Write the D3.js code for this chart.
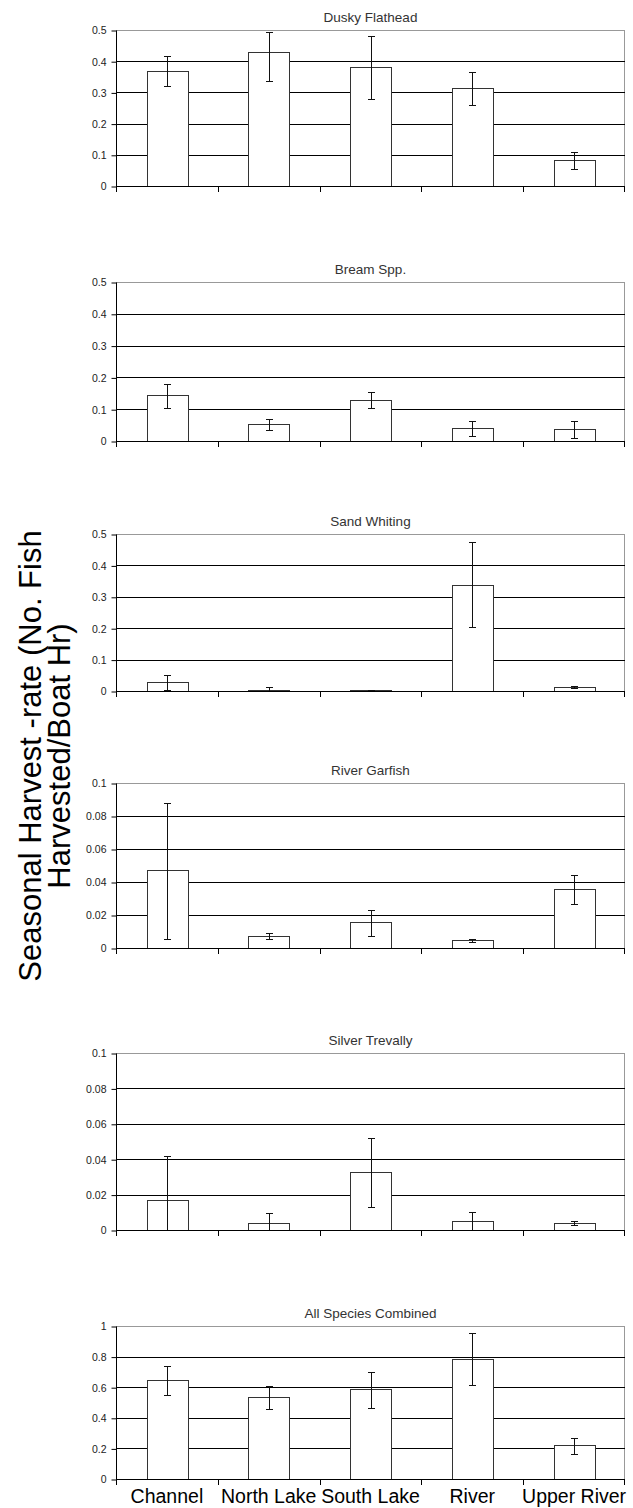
<!DOCTYPE html>
<html>
<head>
<meta charset="utf-8">
<script src="https://cdnjs.cloudflare.com/ajax/libs/d3/7.8.5/d3.min.js"></script>
<style>
  body { margin: 0; background: #fff; }
  text { font-family: "Liberation Sans", Arial, sans-serif; }
</style>
</head>
<body>
<div id="chart"></div>
<script>
// sites along the x axis (shared by every panel)
var sites = ["Channel", "North Lake", "South Lake", "River", "Upper River"];

// one entry per panel
var titles = ["Dusky Flathead", "Bream Spp.", "Sand Whiting", "River Garfish", "Silver Trevally", "All Species Combined"];
var yMax = [0.5, 0.5, 0.5, 0.1, 0.1, 1];
var yTicks = [
    [0, 0.1, 0.2, 0.3, 0.4, 0.5],
    [0, 0.1, 0.2, 0.3, 0.4, 0.5],
    [0, 0.1, 0.2, 0.3, 0.4, 0.5],
    [0, 0.02, 0.04, 0.06, 0.08, 0.1],
    [0, 0.02, 0.04, 0.06, 0.08, 0.1],
    [0, 0.2, 0.4, 0.6, 0.8, 1]
];

// mean harvest rate per site
var rates = [
    [0.370, 0.431, 0.380, 0.315, 0.084],
    [0.145, 0.054, 0.129, 0.040, 0.037],
    [0.030, 0.004, 0.003, 0.339, 0.013],
    [0.047, 0.0075, 0.016, 0.0049, 0.0355],
    [0.017, 0.0041, 0.0329, 0.0051, 0.0041],
    [0.648, 0.535, 0.587, 0.783, 0.222]
];
// error bar ends
var errLow = [
    [0.319, 0.335, 0.279, 0.261, 0.054],
    [0.103, 0.034, 0.103, 0.015, 0.009],
    [0.004, 0.000, 0.002, 0.203, 0.008],
    [0.0055, 0.0057, 0.0073, 0.0039, 0.0268],
    [0.000, 0.000, 0.013, 0.000, 0.003],
    [0.548, 0.457, 0.465, 0.613, 0.165]
];
var errHigh = [
    [0.418, 0.492, 0.481, 0.364, 0.108],
    [0.180, 0.068, 0.154, 0.063, 0.063],
    [0.052, 0.012, 0.004, 0.473, 0.017],
    [0.088, 0.009, 0.023, 0.0057, 0.044],
    [0.042, 0.0098, 0.052, 0.0102, 0.0051],
    [0.739, 0.607, 0.700, 0.957, 0.267]
];

var svgWidth = 633;
var svgHeight = 1508;

// plot area edges for each panel (top, bottom)
var panelTop = [30, 282, 534, 783, 1053, 1326];
var panelBottom = [186, 441, 691, 948, 1230, 1479];
var plotLeft = 116;
var plotRight = 625;

var svg = d3.select("#chart")
    .append("svg")
    .attr("width", svgWidth)
    .attr("height", svgHeight);

var xBand = d3.scaleBand()
    .domain(sites)
    .range([plotLeft, plotRight])
    .paddingInner(0)
    .paddingOuter(0);

var barWidth = xBand.bandwidth() * 0.4;
var capHalf = 3.5;

titles.forEach(function(title, i) {
    var y = d3.scaleLinear()
        .domain([0, yMax[i]])
        .range([panelBottom[i], panelTop[i]]);

    var g = svg.append("g");

    // title
    g.append("text")
        .attr("x", (plotLeft + plotRight) / 2)
        .attr("y", panelTop[i] - 8)
        .attr("text-anchor", "middle")
        .attr("font-size", "13.5px")
        .attr("fill", "#333")
        .text(title);

    // top and right frame (grey)
    g.append("line")
        .attr("x1", plotLeft).attr("x2", plotRight)
        .attr("y1", y(yMax[i]) + 0.5).attr("y2", y(yMax[i]) + 0.5)
        .attr("stroke", "#999");
    g.append("line")
        .attr("x1", plotRight - 0.5).attr("x2", plotRight - 0.5)
        .attr("y1", y(yMax[i])).attr("y2", y(0))
        .attr("stroke", "#999");

    // gridlines
    g.selectAll(".grid")
        .data(yTicks[i].filter(d => d > 0 && d < yMax[i]))
        .enter()
        .append("line")
        .attr("x1", plotLeft).attr("x2", plotRight)
        .attr("y1", d => Math.round(y(d)) + 0.5)
        .attr("y2", d => Math.round(y(d)) + 0.5)
        .attr("stroke", "#000")
        .attr("stroke-width", 1);

    // bars
    g.selectAll(".bar")
        .data(rates[i])
        .enter()
        .append("rect")
        .attr("x", (d, j) => Math.round(xBand(sites[j]) + (xBand.bandwidth() - barWidth) / 2) + 0.5)
        .attr("y", d => Math.round(y(d)) + 0.5)
        .attr("width", Math.round(barWidth))
        .attr("height", d => Math.max(0, Math.round(y(0)) - Math.round(y(d))))
        .attr("fill", "#fff")
        .attr("stroke", "#333")
        .attr("stroke-width", 1);

    // error bars
    sites.forEach(function(s, j) {
        var cx = Math.round(xBand(s) + xBand.bandwidth() / 2) + 0.5;
        var yl = Math.round(y(errLow[i][j])) + 0.5;
        var yh = Math.round(y(errHigh[i][j])) + 0.5;
        g.append("line")
            .attr("x1", cx).attr("x2", cx)
            .attr("y1", yl).attr("y2", yh)
            .attr("stroke", "#111");
        g.append("line")
            .attr("x1", cx - capHalf).attr("x2", cx + capHalf)
            .attr("y1", yl).attr("y2", yl)
            .attr("stroke", "#111");
        g.append("line")
            .attr("x1", cx - capHalf).attr("x2", cx + capHalf)
            .attr("y1", yh).attr("y2", yh)
            .attr("stroke", "#111");
    });

    // y axis
    var leftAxis = d3.axisLeft(y)
        .tickValues(yTicks[i])
        .tickFormat(d => String(d))
        .tickSize(5)
        .tickPadding(5);
    var ya = g.append("g")
        .attr("transform", `translate(${plotLeft + 0.5}, 0.5)`)
        .call(leftAxis);
    ya.select(".domain").attr("d", `M0,${y(yMax[i])}V${y(0)}`).attr("stroke", "#000");
    ya.selectAll("line").attr("stroke", "#000");
    ya.selectAll("text")
        .attr("font-family", "Liberation Sans, Arial, sans-serif")
        .attr("font-size", "10.5px")
        .attr("fill", "#222");

    // x axis with ticks at category boundaries
    var xa = g.append("g");
    xa.append("line")
        .attr("x1", plotLeft).attr("x2", plotRight)
        .attr("y1", Math.round(y(0)) + 0.5).attr("y2", Math.round(y(0)) + 0.5)
        .attr("stroke", "#000");
    var bounds = sites.map(s => xBand(s)).concat([plotRight - 1]);
    xa.selectAll(".xt")
        .data(bounds)
        .enter()
        .append("line")
        .attr("x1", d => Math.round(d) + 0.5).attr("x2", d => Math.round(d) + 0.5)
        .attr("y1", Math.round(y(0))).attr("y2", Math.round(y(0)) + 6)
        .attr("stroke", "#000");

    // site labels only under the last panel
    if (i === titles.length - 1) {
        xa.selectAll(".xl")
            .data(sites)
            .enter()
            .append("text")
            .attr("x", d => xBand(d) + xBand.bandwidth() / 2)
            .attr("y", Math.round(y(0)) + 24)
            .attr("text-anchor", "middle")
            .attr("font-size", "19.5px")
            .attr("fill", "#000")
            .text(d => d);
    }
});

// shared y axis title
var yTitle = svg.append("text")
    .attr("transform", "translate(0, 756) rotate(-90)")
    .attr("text-anchor", "middle")
    .attr("font-size", "31px")
    .attr("fill", "#000");
yTitle.append("tspan").attr("x", 0).attr("y", 41).text("Seasonal Harvest -rate (No. Fish");
yTitle.append("tspan").attr("x", 0).attr("y", 70).text("Harvested/Boat Hr)");
</script>
</body>
</html>
